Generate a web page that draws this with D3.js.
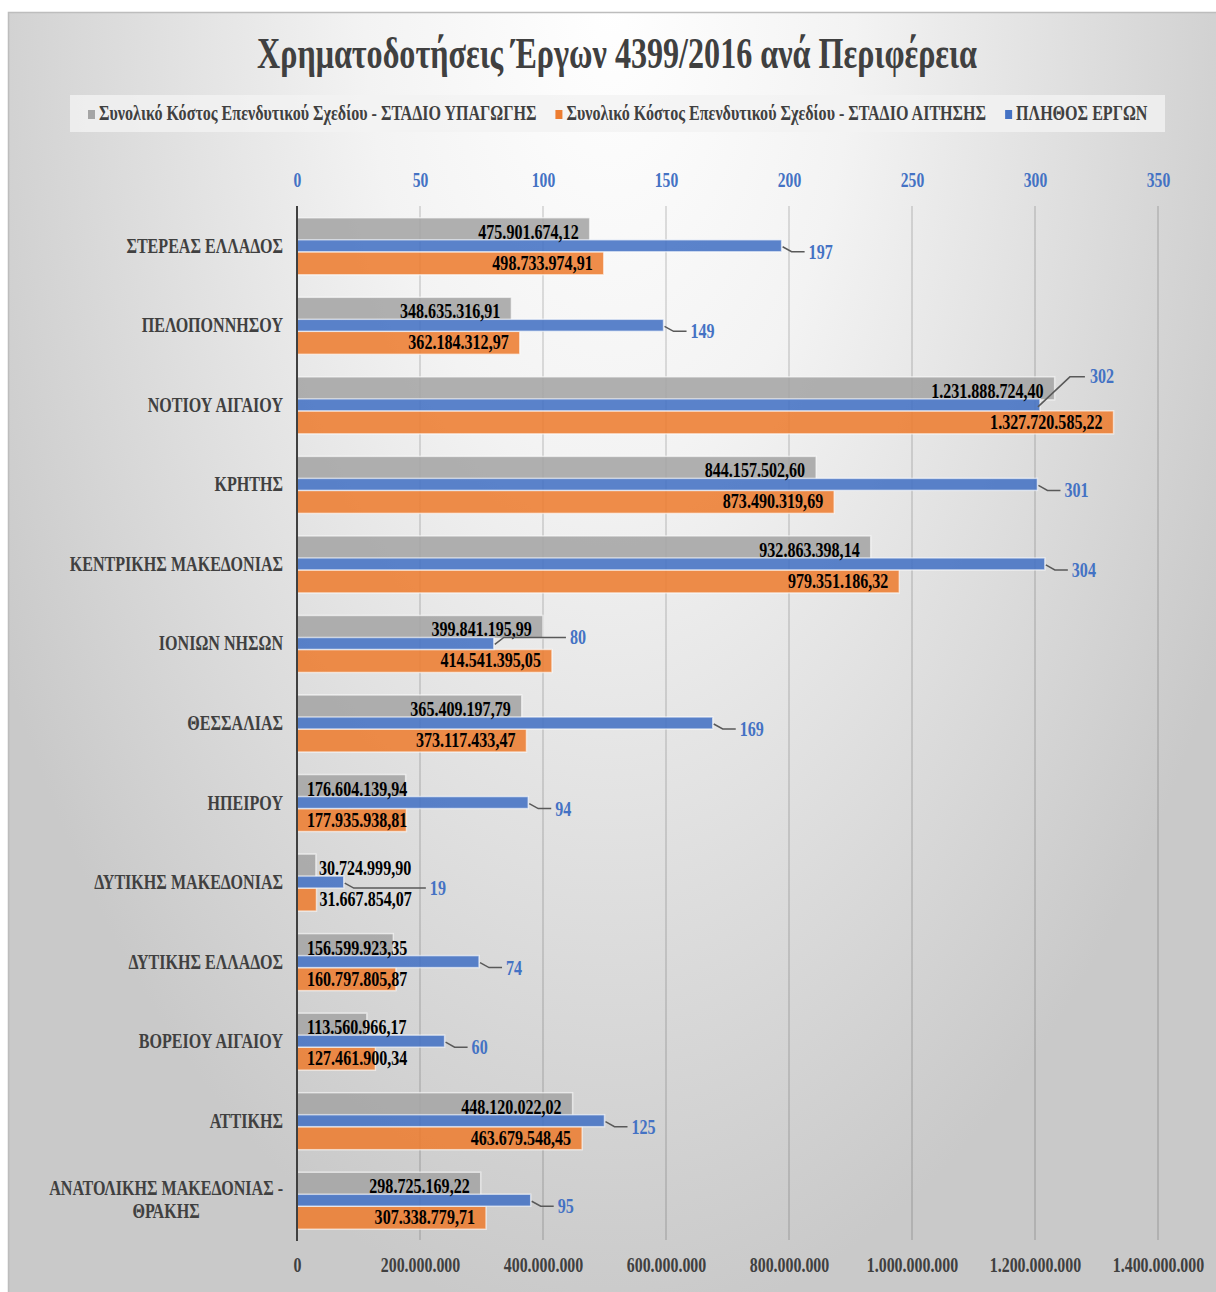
<!DOCTYPE html>
<html>
<head>
<meta charset="utf-8">
<script src="https://cdn.jsdelivr.net/npm/d3@7"></script>
<style>
  body { margin: 0; background: #fff; }
  text { font-family: "Liberation Serif", "Times New Roman", serif; font-weight: bold; }
</style>
</head>
<body>
<script>
// data
var regions = ["ΣΤΕΡΕΑΣ ΕΛΛΑΔΟΣ", "ΠΕΛΟΠΟΝΝΗΣΟΥ", "ΝΟΤΙΟΥ ΑΙΓΑΙΟΥ", "ΚΡΗΤΗΣ",
  "ΚΕΝΤΡΙΚΗΣ ΜΑΚΕΔΟΝΙΑΣ", "ΙΟΝΙΩΝ ΝΗΣΩΝ", "ΘΕΣΣΑΛΙΑΣ", "ΗΠΕΙΡΟΥ",
  "ΔΥΤΙΚΗΣ ΜΑΚΕΔΟΝΙΑΣ", "ΔΥΤΙΚΗΣ ΕΛΛΑΔΟΣ", "ΒΟΡΕΙΟΥ ΑΙΓΑΙΟΥ", "ΑΤΤΙΚΗΣ",
  "ΑΝΑΤΟΛΙΚΗΣ ΜΑΚΕΔΟΝΙΑΣ - ΘΡΑΚΗΣ"];
var costApproved = [475901674.12, 348635316.91, 1231888724.40, 844157502.60, 932863398.14,
  399841195.99, 365409197.79, 176604139.94, 30724999.90, 156599923.35, 113560966.17,
  448120022.02, 298725169.22];
var costApplied = [498733974.91, 362184312.97, 1327720585.22, 873490319.69, 979351186.32,
  414541395.05, 373117433.47, 177935938.81, 31667854.07, 160797805.87, 127461900.34,
  463679548.45, 307338779.71];
var projectCount = [197, 149, 302, 301, 304, 80, 169, 94, 19, 74, 60, 125, 95];
var countTicks = [0, 50, 100, 150, 200, 250, 300, 350];
var costTicks = [0, 200000000, 400000000, 600000000, 800000000, 1000000000, 1200000000, 1400000000];
var seriesNames = ["Συνολικό Κόστος Επενδυτικού Σχεδίου - ΣΤΑΔΙΟ ΥΠΑΓΩΓΗΣ",
  "Συνολικό Κόστος Επενδυτικού Σχεδίου - ΣΤΑΔΙΟ ΑΙΤΗΣΗΣ", "ΠΛΗΘΟΣ ΕΡΓΩΝ"];
var title = "Χρηματοδοτήσεις Έργων 4399/2016 ανά Περιφέρεια";

var W = 1216, H = 1292, SX = 0.78, FS = 20.6;
var colGray = "#a5a5a5", colOrange = "#ed7d31", colBlue = "#4472c4";

var svg = d3.select("body").append("svg").attr("width", W).attr("height", H);

// background
var defs = svg.append("defs");
var grad = defs.append("radialGradient").attr("id", "bg")
  .attr("gradientUnits", "userSpaceOnUse")
  .attr("cx", 610).attr("cy", 0).attr("r", 700)
  .attr("gradientTransform", "translate(610,0) scale(1,1.9) translate(-610,0)");
grad.append("stop").attr("offset", 0).attr("stop-color", "#ffffff");
grad.append("stop").attr("offset", 0.35).attr("stop-color", "#f3f3f3");
grad.append("stop").attr("offset", 1).attr("stop-color", "#c9c9c9");
svg.append("rect").attr("x", 8.5).attr("y", 12.5).attr("width", W).attr("height", H)
  .attr("fill", "url(#bg)").attr("stroke", "#bdbdbd").attr("stroke-width", 1.5);

function txt(g, x, y, s, size, fill, anchor, sx) {
  var k = sx || SX;
  return g.append("text")
    .attr("data-sx", k)
    .attr("transform", "translate(" + x + "," + y + ") scale(" + k + ",1)")
    .attr("font-size", size).attr("fill", fill)
    .attr("text-anchor", anchor || "start").text(s);
}

// title
txt(svg, 617, 68, title, 44, "#404040", "middle", 0.73);

// legend
var leg = svg.append("g");
leg.append("rect").attr("x", 70).attr("y", 95).attr("width", 1095).attr("height", 37)
  .attr("fill", "#f2f2f2").attr("fill-opacity", 0.8);
var legX = 88, legCols = [colGray, colOrange, colBlue];
seriesNames.forEach(function (name, i) {
  leg.append("rect").attr("x", legX).attr("y", 110).attr("width", 7).attr("height", 9)
    .attr("fill", legCols[i]);
  var t = txt(leg, legX + 11, 120, name, FS, "#404040");
  legX += 11 + t.node().getComputedTextLength() * SX + 19;
});

// scales
var x0 = 297, x1 = 1158;
var x = d3.scaleLinear().domain([0, 1400000000]).range([x0, x1]);
var xc = d3.scaleLinear().domain([0, 350]).range([x0, x1]);
var y = d3.scaleBand().domain(regions).range([206, 1240]);
var half = y.bandwidth() / 2;

// gridlines
svg.append("g").selectAll("line").data(costTicks.slice(1)).enter().append("line")
  .attr("x1", function (d) { return x(d); }).attr("x2", function (d) { return x(d); })
  .attr("y1", 206).attr("y2", 1240)
  .attr("stroke", "#000").attr("stroke-opacity", 0.2).attr("stroke-width", 1.2);

// top axis (count)
var topAx = svg.append("g").attr("transform", "translate(0,187)")
  .call(d3.axisTop(xc).tickValues(countTicks).tickSize(0).tickPadding(0));
topAx.select(".domain").remove();
topAx.selectAll("text").attr("y", 0).attr("dy", 0)
  .attr("transform", "scale(" + SX + ",1)")
  .attr("font-size", 20).attr("font-family", null).attr("fill", colBlue);

// bottom axis (cost)
var dotFmt = function (d) { return d3.format(",")(d).replace(/,/g, "."); };
var botAx = svg.append("g").attr("transform", "translate(0,1272)")
  .call(d3.axisBottom(x).tickValues(costTicks).tickFormat(dotFmt).tickSize(0).tickPadding(0));
botAx.select(".domain").remove();
botAx.selectAll("text").attr("y", 0).attr("dy", 0)
  .attr("transform", "scale(" + SX + ",1)")
  .attr("font-size", 20.4).attr("font-family", null).attr("fill", "#404040");

// bars
var rows = regions.map(function (r, i) {
  return { region: r, a: costApproved[i], b: costApplied[i], n: projectCount[i] };
});
var g = svg.append("g");
var barStyle = function (sel, col) {
  sel.attr("fill", col).attr("fill-opacity", 0.88)
    .attr("stroke", "#ffffff").attr("stroke-opacity", 0.6).attr("stroke-width", 1.5);
};
g.selectAll(".ga").data(rows).enter().append("rect")
  .attr("x", x0).attr("y", function (d) { return y(d.region) + half - 28; })
  .attr("width", function (d) { return x(d.a) - x0; }).attr("height", 23)
  .call(barStyle, colGray);
g.selectAll(".gb").data(rows).enter().append("rect")
  .attr("x", x0).attr("y", function (d) { return y(d.region) + half + 6; })
  .attr("width", function (d) { return x(d.b) - x0; }).attr("height", 23)
  .call(barStyle, colOrange);
g.selectAll(".gn").data(rows).enter().append("rect")
  .attr("x", x0).attr("y", function (d) { return y(d.region) + half - 6; })
  .attr("width", function (d) { return xc(d.n) - x0; }).attr("height", 12)
  .call(barStyle, colBlue);

// left axis line
svg.append("line").attr("x1", x0).attr("x2", x0).attr("y1", 206).attr("y2", 1241)
  .attr("stroke", "#404040").attr("stroke-width", 2);

// value labels
var numFmt = function (v) {
  return d3.format(",.2f")(v).replace(/,/g, "#").replace(".", ",").replace(/#/g, ".");
};
function costLabel(v, cy) {
  var t = txt(g, 0, cy, numFmt(v), FS, "#000");
  var w = t.node().getComputedTextLength() * SX;
  var end = x(v);
  var left = (end - x0 < 30) ? end + 3 : Math.max(end - 11 - w, x0 + 10);
  t.attr("transform", "translate(" + left + "," + cy + ") scale(" + SX + ",1)");
  return left + w;
}
rows.forEach(function (d) {
  var c = y(d.region) + half;
  var ea = costLabel(d.a, c - 7);
  var eb = costLabel(d.b, c + 24);
  // count label with leader line
  var end = xc(d.n);
  var lx = end + 27, ly = c + 13, pushed = false;
  var obst = Math.max(ea, eb, x(d.b) > end ? x(d.b) : 0);
  if (obst + 18 > lx) { lx = obst + 18; pushed = x(d.b) > end; }
  if (pushed) ly = c + 1;
  var pts;
  if (lx > xc(330)) {
    lx = end + 50; ly = c - 22;
    pts = [[end - 2, c + 2], [end + 30, c - 28], [end + 45, c - 28]];
  } else {
    pts = [[end + 1, c + 1], [end + 10, ly - 7], [lx - 4, ly - 7]];
  }
  g.append("path").attr("d", d3.line()(pts)).attr("fill", "none")
    .attr("stroke", "#595959").attr("stroke-width", 1.5);
  txt(g, lx, ly, d.n, FS, colBlue);
});

// category labels
rows.forEach(function (d) {
  var c = y(d.region) + half;
  var parts = d.region.split(" - ");
  if (parts.length === 1) {
    txt(svg, 283, c + 7, d.region, FS, "#404040", "end");
  } else {
    var t1 = txt(svg, 0, 0, parts[0] + " -", FS, "#404040", "middle");
    var w = t1.node().getComputedTextLength() * SX;
    var cx = 283 - w / 2;
    t1.attr("transform", "translate(" + cx + "," + (c - 5) + ") scale(" + SX + ",1)");
    txt(svg, cx, c + 18, parts[1], FS, "#404040", "middle");
  }
});
</script>
</body>
</html>
